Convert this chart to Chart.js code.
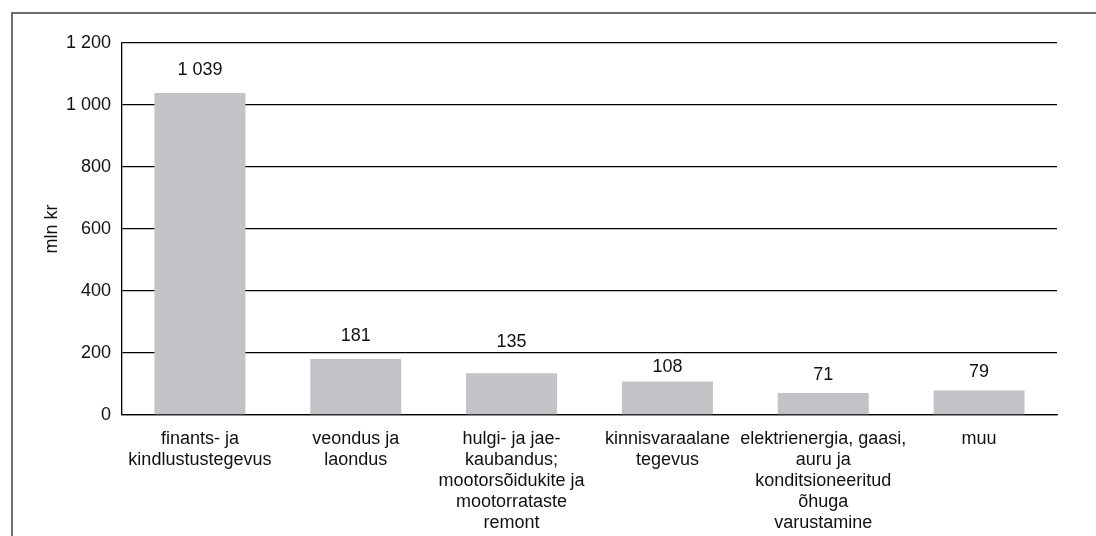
<!DOCTYPE html>
<html>
<head>
<meta charset="utf-8">
<script src="https://cdn.jsdelivr.net/npm/chart.js@4/dist/chart.umd.min.js"></script>
<style>
  html, body { margin: 0; padding: 0; background: #fff; }
  #wrap { position: relative; width: 1096px; height: 536px; overflow: hidden; }
  #frame { position: absolute; left: 11px; top: 12px; width: 1200px; height: 700px;
           border-top: 2px solid #6e6e6e; border-left: 2px solid #6e6e6e; box-sizing: border-box; }
  canvas { position: absolute; left: 0; top: 0; }
</style>
</head>
<body>
<div id="wrap">
  <div id="frame"></div>
  <canvas id="c" width="1096" height="536"></canvas>
</div>
<script>
const categories = [
  ["finants- ja", "kindlustustegevus"],
  ["veondus ja", "laondus"],
  ["hulgi- ja jae-", "kaubandus;", "mootorsõidukite ja", "mootorrataste", "remont"],
  ["kinnisvaraalane", "tegevus"],
  ["elektrienergia, gaasi,", "auru ja", "konditsioneeritud", "õhuga", "varustamine"],
  ["muu"]
];
const values = [1039, 181, 135, 108, 71, 79];
const yAxisTitle = "mln kr";
const yMin = 0, yMax = 1200, yStep = 200;

// style: distance (px) from bar top to the centre of its value label
const labelGaps = [23, 23, 31, 14, 18, 18];

const FONT = "'Liberation Sans', Arial, Helvetica, sans-serif";
const FS = 18;
const TXT = '#111';

function fmt(v) {
  return String(Math.round(v)).replace(/\B(?=(\d{3})+(?!\d))/g, ' ');
}

const valueLabels = {
  id: 'valueLabels',
  afterDatasetsDraw(chart) {
    const ctx = chart.ctx;
    const meta = chart.getDatasetMeta(0);
    ctx.save();
    ctx.font = FS + 'px ' + FONT;
    ctx.fillStyle = TXT;
    ctx.textAlign = 'center';
    ctx.textBaseline = 'middle';
    meta.data.forEach((bar, i) => {
      const v = chart.data.datasets[0].data[i];
      ctx.fillText(fmt(v), bar.x, bar.y - labelGaps[i]);
    });
    ctx.restore();
  }
};

new Chart(document.getElementById('c'), {
  type: 'bar',
  data: {
    labels: categories,
    datasets: [{
      data: values,
      backgroundColor: '#c2c3c6',
      borderWidth: 0,
      categoryPercentage: 1.0,
      barPercentage: 0.584
    }]
  },
  options: {
    responsive: false,
    animation: false,
    devicePixelRatio: 1,
    layout: { padding: { left: 0, right: 39, top: 43, bottom: 0 } },
    plugins: {
      legend: { display: false },
      tooltip: { enabled: false }
    },
    scales: {
      x: {
        grid: { display: false, drawTicks: false },
        border: { display: true, color: '#000', width: 1.3 },
        ticks: {
          color: TXT,
          font: { family: FONT, size: FS, lineHeight: 1.17 },
          padding: 13.5,
          maxRotation: 0,
          minRotation: 0,
          autoSkip: false
        },
        afterFit(scale) { scale.height = 536 - 415; }
      },
      y: {
        min: yMin,
        max: yMax,
        grid: { color: '#000', lineWidth: 1.3, drawTicks: false },
        border: { display: true, color: '#000', width: 1.3 },
        ticks: {
          stepSize: yStep,
          color: TXT,
          font: { family: FONT, size: FS },
          padding: 11,
          callback: (v) => fmt(v)
        },
        title: {
          display: true,
          text: yAxisTitle,
          color: TXT,
          font: { family: FONT, size: FS },
          padding: { top: 41, bottom: 0 }
        },
        afterFit(scale) { scale.width = 122; }
      }
    }
  },
  plugins: [valueLabels]
});
</script>
</body>
</html>
